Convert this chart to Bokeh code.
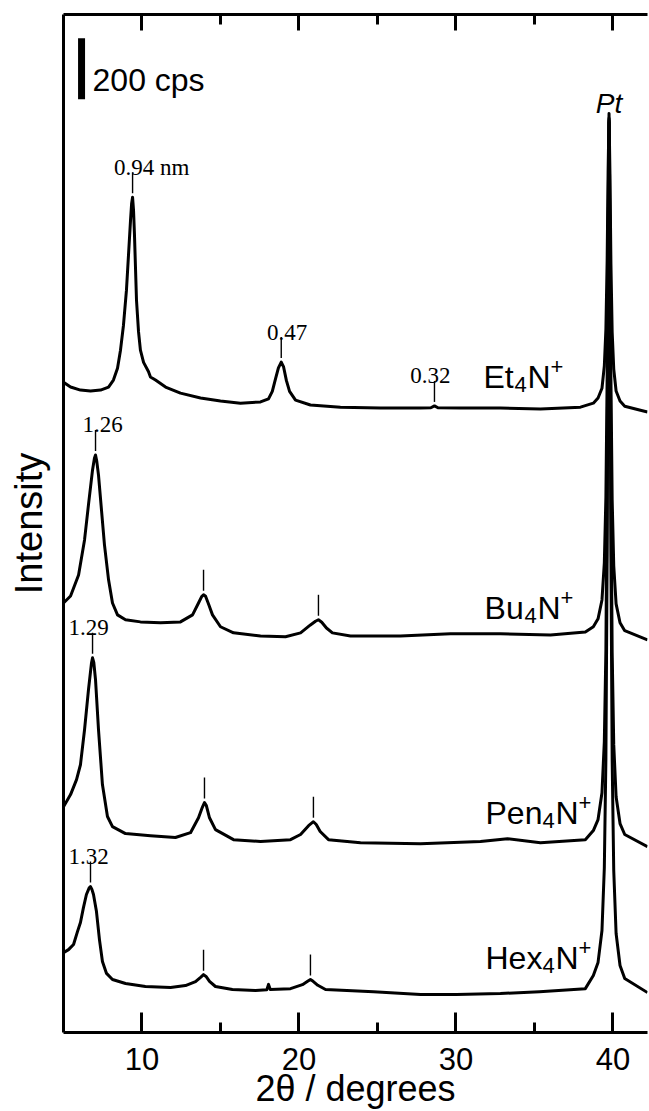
import numpy as np
from bokeh.plotting import figure
from bokeh.models import Range1d, LinearAxis, FixedTicker, Label
from bokeh.embed import file_html
from bokeh.resources import INLINE

# ---------------------------------------------------------------
# XRD patterns of the intercalated films (2θ in degrees, counts/s)
# ---------------------------------------------------------------
et_2theta = [5.00, 5.45, 6.08, 6.72, 7.36, 7.87, 8.18, 8.44, 8.63, 8.82,
             9.01, 9.14, 9.27, 9.34, 9.40, 9.46, 9.52, 9.65, 9.78, 9.90,
             10.10, 10.41, 10.54, 10.86, 11.50, 12.45, 13.73, 15.00, 16.27, 17.55,
             18.06, 18.30, 18.50, 18.69, 18.87, 19.02, 19.20, 19.40, 19.78, 20.73,
             22.64, 25.19, 27.74, 28.40, 28.63, 28.85, 30.29, 32.83, 35.38, 37.93,
             38.75, 39.05, 39.30, 39.45, 39.55, 39.63, 39.69, 39.75, 39.81, 39.87,
             39.95, 40.05, 40.20, 40.45, 40.75, 41.75, 42.20]
et_cps = [235, 219, 209, 206, 209, 219, 242, 281, 340, 422,
          537, 652, 767, 822, 842, 800, 720, 504, 400, 340,
          300, 270, 252, 242, 219, 199, 183, 173, 166, 170,
          180, 205, 245, 282, 301, 285, 240, 205, 176, 160,
          153, 150, 150, 151, 157, 151, 150, 150, 147, 153,
          166, 183, 215, 288, 409, 635, 924, 1117, 914, 625,
          399, 278, 206, 173, 156, 143, 137]

bu_2theta = [5.00, 5.45, 5.96, 6.34, 6.59, 6.85, 6.97, 7.04, 7.12, 7.23,
             7.42, 7.61, 7.87, 8.12, 8.44, 8.95, 9.90, 11.18, 12.45, 13.22,
             13.60, 13.80, 13.92, 14.05, 14.25, 14.49, 15.00, 15.83, 17.55, 19.14,
             20.10, 20.73, 21.05, 21.24, 21.45, 21.75, 22.13, 23.28, 26.46, 29.65,
             32.83, 36.02, 38.24, 38.75, 39.05, 39.30, 39.45, 39.55, 39.63, 39.69,
             39.75, 39.81, 39.87, 39.95, 40.05, 40.20, 40.45, 40.75, 42.20]
bu_cps = [260, 283, 352, 467, 582, 697, 735, 746, 725, 680,
          565, 451, 336, 260, 221, 205, 198, 195, 198, 221,
          260, 281, 287, 282, 255, 221, 182, 162, 152, 149,
          162, 188, 200, 205, 197, 178, 162, 152, 152, 159,
          159, 155, 165, 182, 208, 270, 392, 608, 1005, 1513,
          1851, 1510, 998, 598, 382, 257, 195, 169, 139]

pen_2theta = [5.00, 5.45, 5.83, 6.08, 6.34, 6.59, 6.78, 6.85, 6.93, 7.04,
              7.23, 7.48, 7.80, 8.12, 8.95, 10.54, 12.13, 13.09, 13.60, 13.85,
              13.98, 14.10, 14.30, 14.68, 15.83, 17.55, 19.46, 20.10, 20.61, 20.92,
              21.10, 21.35, 21.88, 23.92, 27.74, 31.56, 33.28, 35.38, 38.24, 38.75,
              39.05, 39.30, 39.45, 39.55, 39.63, 39.69, 39.75, 39.81, 39.87, 39.95,
              40.05, 40.20, 40.45, 40.75, 42.20]
pen_cps = [241, 281, 330, 379, 494, 625, 712, 730, 715, 658,
           494, 314, 209, 176, 153, 146, 140, 156, 205, 240,
           255, 245, 205, 166, 133, 127, 133, 150, 179, 192,
           183, 160, 133, 123, 120, 127, 136, 123, 133, 163,
           199, 287, 455, 756, 1311, 2022, 2495, 2019, 1304, 747,
           445, 274, 186, 150, 110]

hex_2theta = [5.00, 5.32, 5.64, 5.89, 6.08, 6.27, 6.46, 6.63, 6.72, 6.81,
              6.91, 7.10, 7.29, 7.48, 7.74, 8.12, 8.95, 10.22, 11.82, 12.77,
              13.41, 13.75, 13.92, 14.08, 14.30, 14.68, 15.76, 17.23, 17.95, 18.06,
              18.17, 19.46, 20.22, 20.55, 20.73, 20.90, 21.20, 21.69, 24.75, 27.74,
              30.03, 32.83, 35.32, 38.24, 38.75, 39.05, 39.30, 39.45, 39.55, 39.63,
              39.69, 39.75, 39.81, 39.87, 39.95, 40.05, 40.20, 40.45, 40.75, 42.20]
hex_cps = [262, 272, 289, 331, 361, 410, 453, 474, 479, 470,
           453, 397, 305, 233, 194, 174, 161, 151, 148, 154,
           167, 182, 190, 184, 168, 151, 141, 138, 140, 158,
           141, 144, 157, 168, 174, 168, 155, 141, 134, 125,
           125, 128, 134, 144, 187, 230, 335, 541, 899, 1568,
           2421, 2988, 2414, 1561, 892, 531, 325, 220, 177, 131]

# vertical stacking offsets (cps) and sample names
trace_names = ["Et", "Bu", "Pen", "Hex"]
trace_offsets = [1900, 1150, 500, 0]

# marked reflections (2θ) and their d-spacing labels
et_marks = [9.40, 18.87, 28.63]
et_mark_labels = ["0.94 nm", "0.47", "0.32"]
bu_marks = [7.04, 13.92, 21.24]
bu_mark_labels = ["1.26", "", ""]
pen_marks = [6.85, 13.98, 20.92]
pen_mark_labels = ["1.29", "", ""]
hex_marks = [6.72, 13.92, 20.73]
hex_mark_labels = ["1.32", "", ""]

pt_2theta = 39.75          # Pt(111) substrate reflection
scale_bar_cps = 200        # intensity scale bar

x_major_ticks = [10, 20, 30, 40]
x_minor_ticks = [15, 25, 35]

# ---------------------------------------------------------------
SANS = "Liberation Sans"
SERIF = "Liberation Serif"
CPS_PER_PX = 200 / 61.0

p = figure(width=649, height=1111,
           x_range=Range1d(5, 42.2), y_range=Range1d(0, 3342),
           output_backend="svg", toolbar_location=None,
           min_border_left=63, min_border_right=2,
           min_border_top=14, min_border_bottom=78)
p.xgrid.visible = False
p.ygrid.visible = False
p.outline_line_color = None
p.background_fill_color = "white"
p.border_fill_color = "white"

ticker = FixedTicker(ticks=x_major_ticks, minor_ticks=x_minor_ticks)

xb = p.xaxis[0]
xb.ticker = ticker
xb.axis_line_width = 3
xb.major_tick_in = 20
xb.major_tick_out = 0
xb.minor_tick_in = 10
xb.minor_tick_out = 0
xb.major_tick_line_width = 3
xb.minor_tick_line_width = 3
xb.major_label_text_font = SANS
xb.major_label_text_font_size = "31px"
xb.major_label_text_color = "black"
xb.major_label_standoff = 15
xb.axis_label = "2θ / degrees"
xb.axis_label_text_font = SANS
xb.axis_label_text_font_style = "normal"
xb.axis_label_text_font_size = "36px"
xb.axis_label_text_color = "black"
xb.axis_label_standoff = -5

top = LinearAxis(ticker=ticker, axis_line_width=3,
                 major_tick_in=16, major_tick_out=0,
                 minor_tick_in=10, minor_tick_out=0,
                 major_tick_line_width=3, minor_tick_line_width=3,
                 major_label_overrides={t: "" for t in x_major_ticks},
                 major_label_standoff=0)
p.add_layout(top, "above")

yl = p.yaxis[0]
yl.ticker = FixedTicker(ticks=[])
yl.major_tick_in = 0
yl.major_tick_out = 0
yl.minor_tick_in = 0
yl.minor_tick_out = 0
yl.axis_line_width = 3
yl.axis_label = "Intensity"
yl.axis_label_text_font = SANS
yl.axis_label_text_font_style = "normal"
yl.axis_label_text_font_size = "38px"
yl.axis_label_text_color = "black"
yl.axis_label_standoff = 14

series = [
    (et_2theta, et_cps, et_marks, et_mark_labels),
    (bu_2theta, bu_cps, bu_marks, bu_mark_labels),
    (pen_2theta, pen_cps, pen_marks, pen_mark_labels),
    (hex_2theta, hex_cps, hex_marks, hex_mark_labels),
]

gap = 4 * CPS_PER_PX
tick_len = 21 * CPS_PER_PX
label_dx = {"0.94 nm": 19, "0.47": 6, "0.32": -4, "1.26": 7, "1.29": -4, "1.32": -2}

for (tt, cps, marks, mlabels), off in zip(series, trace_offsets):
    y = np.array(cps, dtype=float) + off
    p.line(tt, y, line_color="black", line_width=3, line_join="round")
    base = np.interp(marks, tt, y) + gap
    p.segment(x0=marks, y0=base, x1=marks, y1=base + tick_len,
              line_color="black", line_width=1.4)
    for m, b, txt in zip(marks, base, mlabels):
        if txt:
            p.add_layout(Label(x=m, y=b + tick_len, x_offset=label_dx[txt], y_offset=5,
                               text=txt, text_font=SERIF, text_font_size="23px",
                               text_align="center", text_baseline="alphabetic",
                               text_color="black"))

# sample labels: R4N+ with subscript 4 and superscript +
label_anchor = {"Et": (31.75, 2152), "Bu": (31.82, 1394), "Pen": (31.88, 722), "Hex": (31.88, 246)}
stem_w = {"Et": 31, "Bu": 40, "Pen": 57, "Hex": 57}
for name in trace_names:
    ax, ay = label_anchor[name]
    w = stem_w[name]
    pieces = [(name, 0, 0, "32px"), ("4", w, -8, "22px"),
              ("N", w + 13, 0, "32px"), ("+", w + 36, 10, "22px")]
    for txt, dx, dy, fs in pieces:
        p.add_layout(Label(x=ax, y=ay, x_offset=dx, y_offset=dy, text=txt,
                           text_font=SANS, text_font_size=fs, text_color="black",
                           text_align="left", text_baseline="alphabetic"))

# Pt label
p.add_layout(Label(x=pt_2theta, y=3050, text="Pt", text_font=SANS,
                   text_font_style="italic", text_font_size="28px",
                   text_align="center", text_baseline="alphabetic", text_color="black"))

# intensity scale bar
p.segment(x0=[6.15], y0=[3064], x1=[6.15], y1=[3064 + scale_bar_cps],
          line_color="black", line_width=7, line_cap="butt")
p.add_layout(Label(x=6.85, y=3126, text="200 cps", text_font=SANS,
                   text_font_size="32px", text_align="left",
                   text_baseline="alphabetic", text_color="black"))

open("out.html", "w").write(file_html(p, INLINE))
